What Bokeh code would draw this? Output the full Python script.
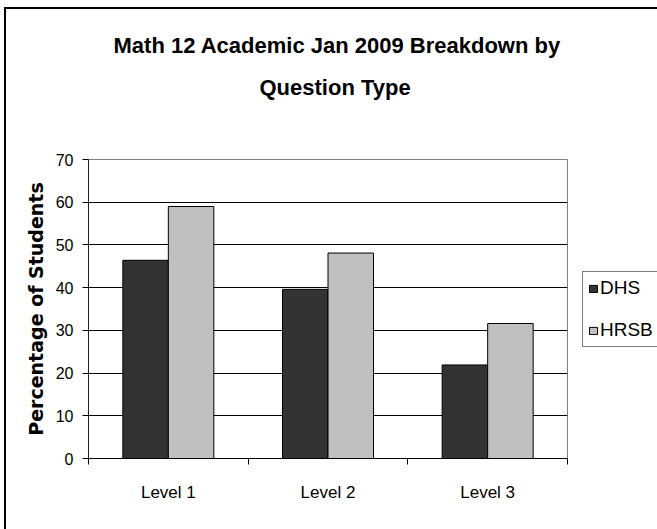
from bokeh.plotting import figure
from bokeh.models import (FactorRange, Range1d, LinearAxis, FixedTicker,
                          Legend, LegendItem, Title, ColumnDataSource)
from bokeh.transform import dodge
from bokeh.embed import file_html
from bokeh.resources import INLINE

# Chart data
levels = ["Level 1", "Level 2", "Level 3"]
series_names = ["DHS", "HRSB"]
dhs = [46.4, 39.6, 21.9]
hrsb = [59.0, 48.1, 31.6]
y_ticks = [0, 10, 20, 30, 40, 50, 60, 70]
title_lines = ["Math 12 Academic Jan 2009 Breakdown by", "Question Type"]
y_label = "Percentage of Students"

SANS = "Liberation Sans"
BOLD_WIDE = "DejaVu Sans"
series_colors = ["#333333", "#c0c0c0"]

source = ColumnDataSource(dict(level=levels, DHS=dhs, HRSB=hrsb))

p = figure(frame_width=479, frame_height=299,
           x_range=FactorRange(factors=levels, range_padding=0),
           y_range=Range1d(y_ticks[0], y_ticks[-1]),
           x_axis_location=None,
           output_backend="svg", toolbar_location=None,
           min_border_left=82, min_border_right=90,
           min_border_top=150, min_border_bottom=71)
# outer chart border (left/top edges)
p.styles = {"margin-left": "4px", "margin-top": "7px",
            "border-left": "2px solid #000", "border-top": "2px solid #000"}
p.background_fill_color = "white"
p.border_fill_color = "white"
p.outline_line_color = "#808080"
p.outline_line_width = 1

# grouped bars
bar_w = 0.285
renderers = []
for i, (name, color) in enumerate(zip(series_names, series_colors)):
    offset = (i - 0.5) * bar_w
    r = p.vbar(x=dodge("level", offset, range=p.x_range), top=name, width=bar_w,
               source=source, fill_color=color, line_color="black", line_width=1)
    renderers.append(r)

# y axis
yax = p.yaxis[0]
yax.ticker = FixedTicker(ticks=y_ticks)
yax.axis_line_color = "#222222"
yax.major_tick_line_color = "black"
yax.major_tick_in = 0
yax.major_tick_out = 6
yax.minor_tick_line_color = None
yax.major_label_standoff = 9
yax.major_label_text_font = SANS
yax.major_label_text_font_size = "16px"
yax.major_label_text_color = "black"
yax.axis_label = y_label
yax.axis_label_text_font = BOLD_WIDE
yax.axis_label_text_font_style = "bold"
yax.axis_label_text_font_size = "19px"
yax.axis_label_text_color = "black"
yax.axis_label_standoff = 6

p.ygrid.ticker = FixedTicker(ticks=y_ticks[1:-1])
p.ygrid.grid_line_color = "black"
p.ygrid.grid_line_width = 1
p.xgrid.visible = False

# x axis: labels at category centres, short marks on the boundaries
# between categories (synthetic coordinates of the factor range)
centres = [i + 0.5 for i in range(len(levels))]
edges = list(range(len(levels) + 1))
xax = LinearAxis(ticker=FixedTicker(ticks=centres, minor_ticks=edges),
                 major_label_overrides=dict(zip(centres, levels)),
                 major_tick_line_color=None, major_tick_in=0, major_tick_out=6,
                 minor_tick_line_color="black", minor_tick_in=0, minor_tick_out=6,
                 axis_line_color="black", major_label_standoff=18,
                 major_label_text_font=SANS, major_label_text_font_size="17px",
                 major_label_text_color="black")
p.add_layout(xax, "below")

# legend in the right-hand panel, 15px clear of the plot area
legend = Legend(items=[LegendItem(label=n, renderers=[r]) for n, r in zip(series_names, renderers)],
                location=(15, 111), orientation="vertical",
                border_line_color="black", border_line_width=1,
                background_fill_color="white", background_fill_alpha=1,
                padding=5, spacing=20, margin=0,
                glyph_width=10, glyph_height=9, label_standoff=2,
                label_text_font=SANS, label_text_font_size="19px",
                label_text_color="black")
p.add_layout(legend, "right")

# two-line title; the first one added sits nearest the plot area,
# standoffs set the gap to the plot and the spacing between the lines
title_style = dict(align="left", text_font=SANS, text_font_style="bold",
                   text_font_size="22px", text_color="black")
p.add_layout(Title(text=title_lines[1], standoff=118.6, offset=171, **title_style), "above")
p.add_layout(Title(text=title_lines[0], standoff=-88.4, offset=25, **title_style), "above")

open("out.html", "w").write(file_html(p, INLINE))
